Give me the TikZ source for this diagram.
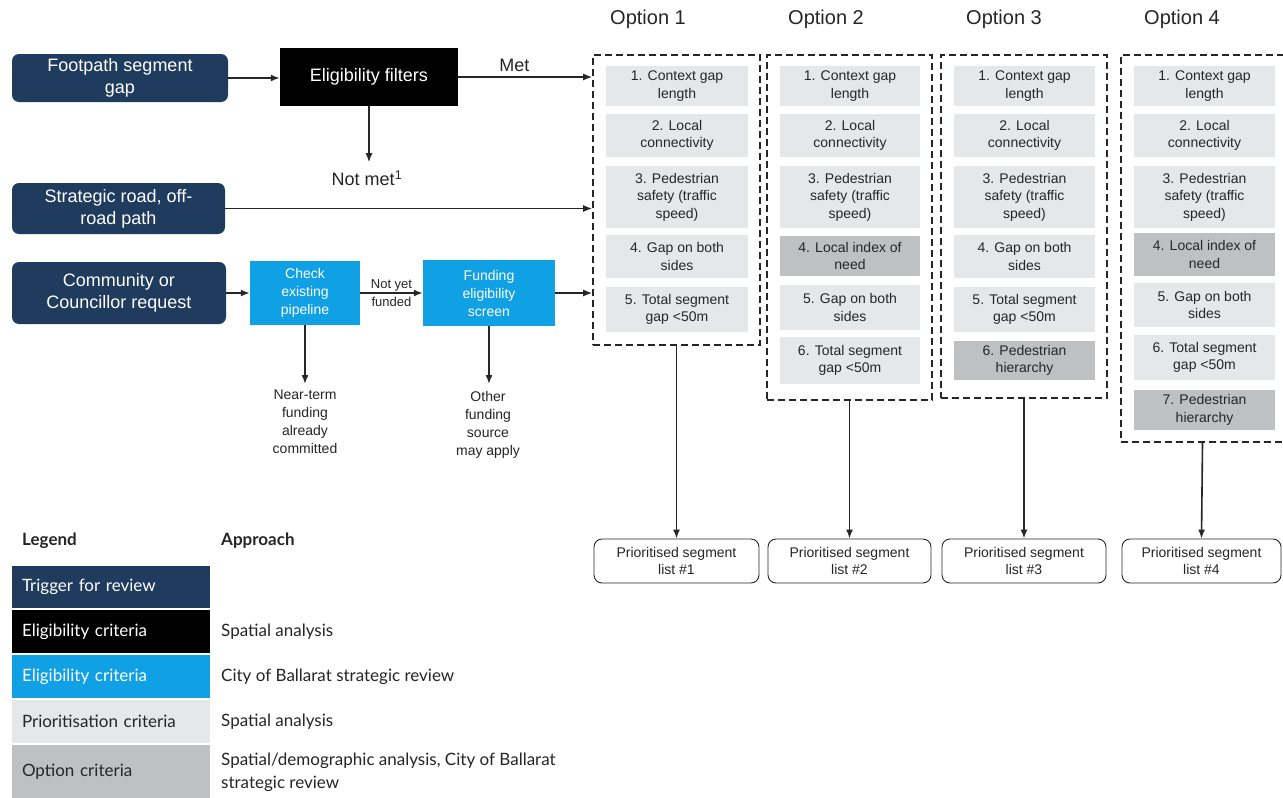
\documentclass[tikz,border=0pt]{standalone}
\usepackage{fontspec}
\setmainfont{Liberation Sans}
\newfontfamily\legfont{Lato}
\usetikzlibrary{arrows.meta}
\definecolor{navy}{HTML}{1F3B5E}
\definecolor{cblue}{HTML}{10A0E4}
\definecolor{lgray}{HTML}{E6E7E9}
\definecolor{dgray}{HTML}{BEC0C2}
\definecolor{txt}{HTML}{262626}
\tikzset{
  trig/.style={fill=navy, rounded corners=7pt, text=white, align=center, inner sep=0pt,
    font=\fontsize{18}{22}\selectfont},
  elig/.style={fill=black, text=white, align=center, inner sep=0pt, font=\fontsize{18}{22}\selectfont},
  cbox/.style={fill=cblue, text=white, align=center, inner sep=0pt, font=\fontsize{14}{18}\selectfont},
  plain/.style={align=center, inner sep=0pt, text=txt, font=\fontsize{14}{18}\selectfont},
  pc/.style={fill=lgray, align=center, inner sep=0pt, text=txt, font=\fontsize{14}{17.5}\selectfont},
  oc/.style={pc, fill=dgray},
  dbox/.style={draw=txt, dashed, dash pattern=on 7pt off 4pt, line width=1.6pt, inner sep=0pt},
  plist/.style={draw=txt, rounded corners=8pt, line width=0.9pt, align=center, inner sep=0pt,
    minimum height=44pt, text=txt, font=\fontsize{14}{17.5}\selectfont},
  opt/.style={inner sep=0pt, text=txt, font=\fontsize{20}{24}\selectfont},
  arr/.style={-{Latex[length=9pt,width=7pt]}, line width=1.6pt, draw=txt},
  legrow/.style={minimum width=198pt, anchor=center, inner sep=0pt, text width=178pt, align=left,
    font=\legfont\fontsize{17}{20}\selectfont},
  legtxt/.style={anchor=west, inner sep=0pt, align=left, text=txt, font=\legfont\fontsize{17}{23}\selectfont},
}
\begin{document}
\begin{tikzpicture}[x=1pt, y=-1pt]
\useasboundingbox[fill=white] (0,0) rectangle (1283,798);

% trigger boxes
\node[trig, minimum width=216pt, minimum height=48pt] (fp) at (120,78) {Footpath segment\\gap};
\node[trig, minimum width=213pt, minimum height=51pt] (sr) at (118.5,208.5) {Strategic road, off-\\road path};
\node[trig, minimum width=214pt, minimum height=62pt] (cc) at (119,293) {Community or\\Councillor request};

\node[elig, minimum width=178pt, minimum height=58pt] (ef) at (369,77) {Eligibility filters};
\node[plain, font=\fontsize{18}{22}\selectfont] (notmet) at (367,178) {Not met\textsuperscript{1}};

\node[cbox, minimum width=110pt, minimum height=64pt] (chk) at (305,293) {Check\\existing\\pipeline};
\node[cbox, minimum width=132pt, minimum height=66pt] (fes) at (489,293) {Funding\\eligibility\\screen};

\node[plain, anchor=north] (nt) at (305,390) {Near-term\\funding\\already\\committed};
\node[plain, anchor=north] (of) at (488,391) {Other\\funding\\source\\may apply};

% option headers
\node[opt] (h1) at (648,19) {Option 1};
\node[opt] (h2) at (826,19) {Option 2};
\node[opt] (h3) at (1004,19) {Option 3};
\node[opt] (h4) at (1182,19) {Option 4};

% dashed option boxes
\node[dbox, minimum width=167pt, minimum height=290pt] (o1) at (676.5,200) {};
\node[dbox, minimum width=165pt, minimum height=345pt] (o2) at (849.5,227.5) {};
\node[dbox, minimum width=166pt, minimum height=343pt] (o3) at (1024,226.5) {};
\node[dbox, minimum width=163pt, minimum height=387pt] (o4) at (1202.5,248.5) {};

% option 1 items
\node[pc, minimum width=142pt, minimum height=40pt] (o1a) at (677,86) {1. Context gap\\length};
\node[pc, minimum width=142pt, minimum height=43pt] (o1b) at (677,135.5) {2. Local\\connectivity};
\node[pc, minimum width=142pt, minimum height=62pt] (o1c) at (677,197) {3. Pedestrian\\safety (traffic\\speed)};
\node[pc, minimum width=142pt, minimum height=43pt] (o1d) at (677,256.5) {4. Gap on both\\sides};
\node[pc, minimum width=142pt, minimum height=45pt] (o1e) at (677,309.5) {5. Total segment\\gap <50m};

% option 2 items
\node[pc, minimum width=140pt, minimum height=40pt] (o2a) at (850,86) {1. Context gap\\length};
\node[pc, minimum width=140pt, minimum height=43pt] (o2b) at (850,135.5) {2. Local\\connectivity};
\node[pc, minimum width=140pt, minimum height=62pt] (o2c) at (850,197) {3. Pedestrian\\safety (traffic\\speed)};
\node[oc, minimum width=140pt, minimum height=40pt] (o2d) at (850,256) {4. Local index of\\need};
\node[pc, minimum width=140pt, minimum height=45pt] (o2e) at (850,307.5) {5. Gap on both\\sides};
\node[pc, minimum width=140pt, minimum height=47pt] (o2f) at (850,360.5) {6. Total segment\\gap <50m};

% option 3 items
\node[pc, minimum width=141pt, minimum height=40pt] (o3a) at (1024.5,86) {1. Context gap\\length};
\node[pc, minimum width=141pt, minimum height=43pt] (o3b) at (1024.5,135.5) {2. Local\\connectivity};
\node[pc, minimum width=141pt, minimum height=62pt] (o3c) at (1024.5,197) {3. Pedestrian\\safety (traffic\\speed)};
\node[pc, minimum width=141pt, minimum height=43pt] (o3d) at (1024.5,256.5) {4. Gap on both\\sides};
\node[pc, minimum width=141pt, minimum height=45pt] (o3e) at (1024.5,309.5) {5. Total segment\\gap <50m};
\node[oc, minimum width=141pt, minimum height=39pt] (o3f) at (1024.5,360.5) {6. Pedestrian\\hierarchy};

% option 4 items
\node[pc, minimum width=141pt, minimum height=40pt] (o4a) at (1204.5,86) {1. Context gap\\length};
\node[pc, minimum width=141pt, minimum height=43pt] (o4b) at (1204.5,135.5) {2. Local\\connectivity};
\node[pc, minimum width=141pt, minimum height=62pt] (o4c) at (1204.5,197) {3. Pedestrian\\safety (traffic\\speed)};
\node[oc, minimum width=141pt, minimum height=43pt] (o4d) at (1204.5,254.5) {4. Local index of\\need};
\node[pc, minimum width=141pt, minimum height=44pt] (o4e) at (1204.5,305) {5. Gap on both\\sides};
\node[pc, minimum width=141pt, minimum height=45pt] (o4f) at (1204.5,357.5) {6. Total segment\\gap <50m};
\node[oc, minimum width=141pt, minimum height=40pt] (o4g) at (1204.5,410) {7. Pedestrian\\hierarchy};

% prioritised lists
\node[plist, minimum width=165pt] (p1) at (676.5,561) {Prioritised segment\\list \#1};
\node[plist, minimum width=163pt] (p2) at (849.5,561) {Prioritised segment\\list \#2};
\node[plist, minimum width=164pt] (p3) at (1024,561) {Prioritised segment\\list \#3};
\node[plist, minimum width=159pt] (p4) at (1201.5,561) {Prioritised segment\\list \#4};

% connectors
\draw[arr] (fp.east) -- (fp.east -| ef.west);
\draw[arr] (ef.east) -- (ef.east -| o1.west) node[pos=0.42, above=1pt, font=\fontsize{18}{22}\selectfont, text=txt] {Met};
\draw[arr] (ef.south) -- ([yshift=8pt]notmet.north -| ef.south);
\draw[arr] (sr.east) -- (sr.east -| o1.west);
\draw[arr] (cc.east) -- (chk.west);
\draw[arr] (chk.east) -- (fes.west)
  node[midway, above=1pt, plain, font=\fontsize{13}{15}\selectfont] {Not yet}
  node[midway, below=3pt, plain, font=\fontsize{13}{15}\selectfont] {funded};
\draw[arr] (fes.east) -- (fes.east -| o1.west);
\draw[arr] (chk.south) -- ([yshift=6pt]nt.north);
\draw[arr] (fes.south) -- ([yshift=7pt]of.north -| fes.south);
\draw[arr] (o1.south) -- (p1.north);
\draw[arr] (o2.south) -- (p2.north);
\draw[arr] (o3.south) -- (p3.north);
\draw[arr] (o4.south) -- (p4.north);

% legend
\node[anchor=west, inner sep=0pt, font=\legfont\bfseries\fontsize{17}{20}\selectfont, text=txt] (lg) at (22,541) {Legend};
\node[anchor=west, inner sep=0pt, font=\legfont\bfseries\fontsize{17}{20}\selectfont, text=txt] (ap) at (221,541) {Approach};
\node[legrow, fill=navy, text=white, minimum height=42pt] (l1) at (111,587) {Trigger for review};
\node[legrow, fill=black, text=white, minimum height=43pt] (l2) at (111,631.5) {Eligibility criteria};
\node[legrow, fill=cblue, text=white, minimum height=43pt] (l3) at (111,676.5) {Eligibility criteria};
\node[legrow, fill=lgray, text=txt, minimum height=43pt] (l4) at (111,721.5) {Prioritisation criteria};
\node[legrow, fill=dgray, text=txt, minimum height=53pt] (l5) at (111,771.5) {Option criteria};
\node[legtxt] (a2) at (221,631.5) {Spatial analysis};
\node[legtxt] (a3) at (221,676.5) {City of Ballarat strategic review};
\node[legtxt] (a4) at (221,721.5) {Spatial analysis};
\node[legtxt] (a5) at (221,772) {Spatial/demographic analysis, City of Ballarat\\strategic review};
\end{tikzpicture}
\end{document}
